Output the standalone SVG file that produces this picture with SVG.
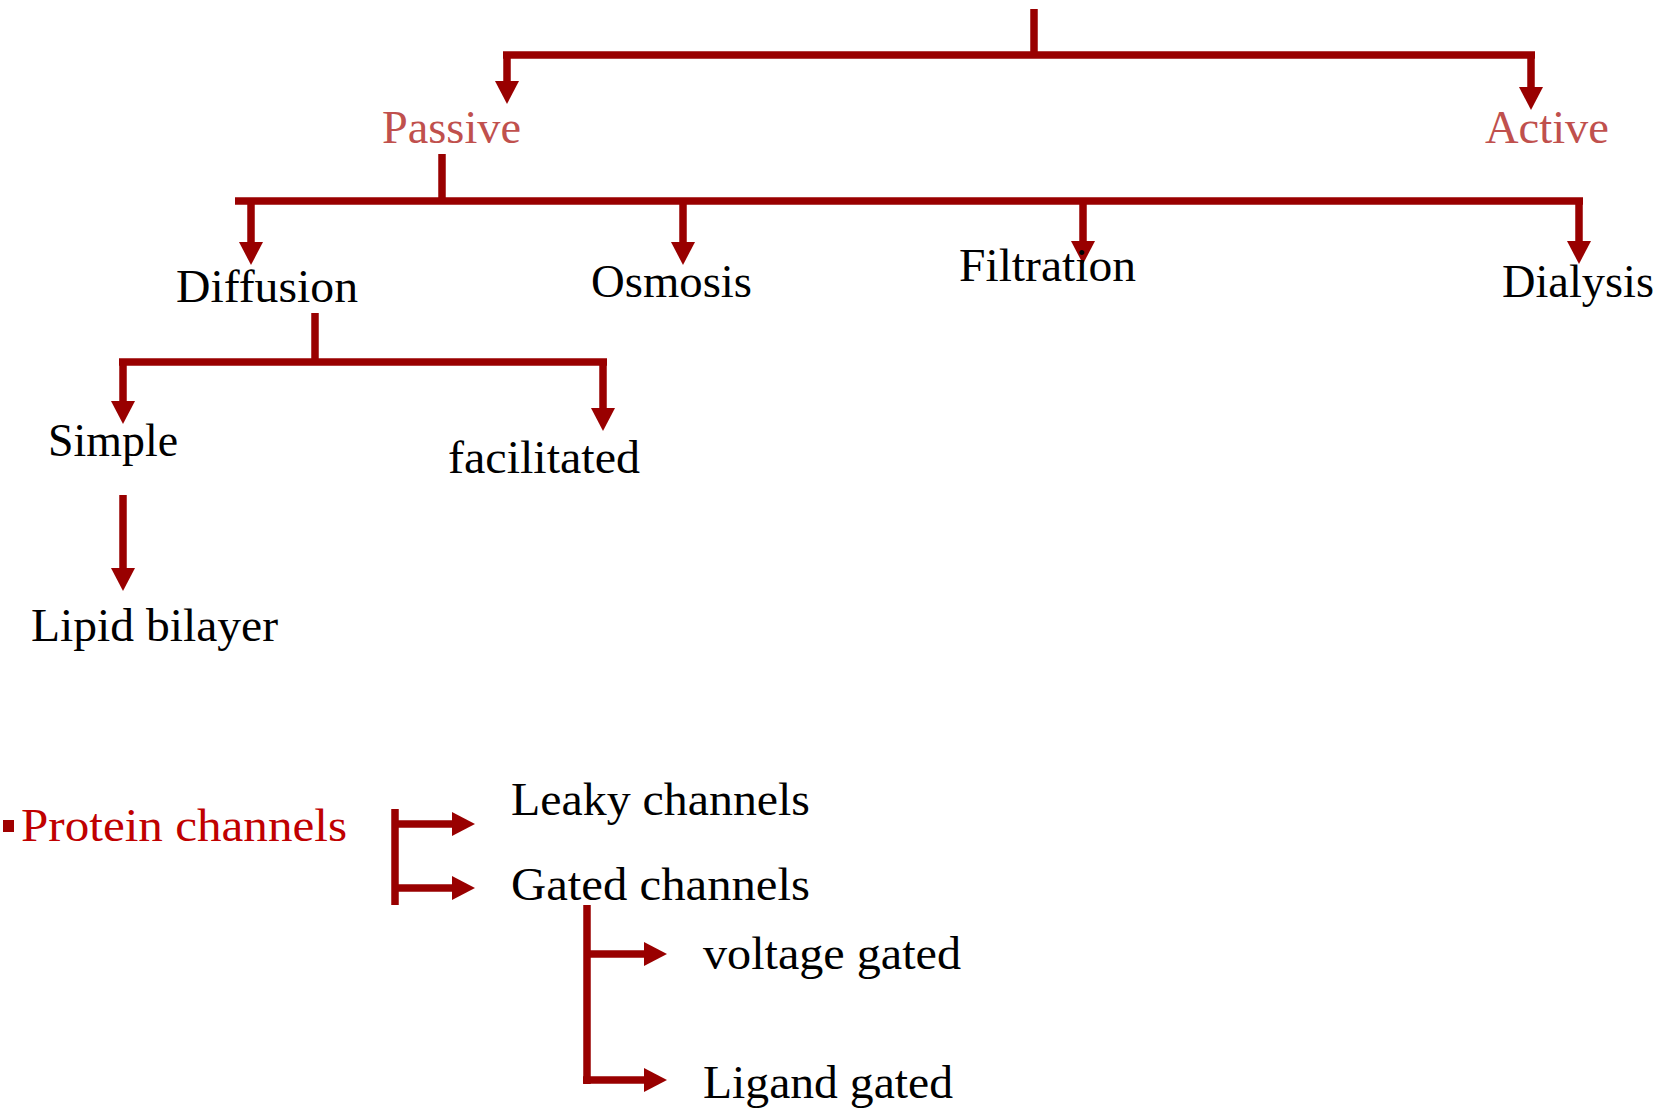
<svg xmlns="http://www.w3.org/2000/svg" width="1666" height="1108" viewBox="0 0 1666 1108">
<style>
  .ln { fill: none; stroke: #990000; stroke-width: 7.5; }
  .ar { fill: none; stroke: #990000; stroke-width: 7.5; marker-end: url(#head); }
  .t { font-family: "Liberation Serif", "Times New Roman", serif; font-size: 46px; fill: #000; }
  .h { fill: #C0504D; }
  .pc { fill: #C00000; }
</style>
<defs>
  <marker id="head" markerUnits="userSpaceOnUse" markerWidth="24" markerHeight="24" refX="0" refY="12" orient="auto">
    <path d="M0,0 L23,12 L0,24 Z" fill="#990000"/>
  </marker>
</defs>
<rect width="1666" height="1108" fill="#fff"/>
<g id="connectors">
  <path class="ln" d="M1034,9 V55"/>
  <path class="ln" d="M503,55 H1535"/>
  <path class="ar" d="M507,55 V81"/>
  <path class="ar" d="M1531,55 V87"/>
  <path class="ln" d="M442,154 V201"/>
  <path class="ln" d="M235,201 H1583"/>
  <path class="ar" d="M251,201 V242"/>
  <path class="ar" d="M683,201 V242"/>
  <path class="ar" d="M1083,201 V241"/>
  <path class="ar" d="M1579,201 V241"/>
  <path class="ln" d="M315,313 V362"/>
  <path class="ln" d="M119,362 H607"/>
  <path class="ar" d="M123,362 V401"/>
  <path class="ar" d="M603,362 V408"/>
  <path class="ar" d="M123,495 V568"/>
  <path class="ln" d="M395,809 V905"/>
  <path class="ar" d="M395,824 H452"/>
  <path class="ar" d="M395,888 H452"/>
  <path class="ln" d="M587,905 V1084"/>
  <path class="ar" d="M587,954 H644"/>
  <path class="ar" d="M583,1080 H644"/>
</g>
<g id="node-passive"><text class="t h" x="382" y="143" textLength="139" lengthAdjust="spacingAndGlyphs">Passive</text></g>
<g id="node-active"><text class="t h" x="1485" y="143" textLength="124" lengthAdjust="spacingAndGlyphs">Active</text></g>
<g id="node-diffusion"><text class="t" x="176" y="302" textLength="182" lengthAdjust="spacingAndGlyphs">Diffusion</text></g>
<g id="node-osmosis"><text class="t" x="591" y="297" textLength="161" lengthAdjust="spacingAndGlyphs">Osmosis</text></g>
<g id="node-filtration"><text class="t" x="959" y="281" textLength="177" lengthAdjust="spacingAndGlyphs">Filtration</text></g>
<g id="node-dialysis"><text class="t" x="1502" y="297" textLength="152" lengthAdjust="spacingAndGlyphs">Dialysis</text></g>
<g id="node-simple"><text class="t" x="48" y="456" textLength="130" lengthAdjust="spacingAndGlyphs">Simple</text></g>
<g id="node-facilitated"><text class="t" x="448" y="473" textLength="192" lengthAdjust="spacingAndGlyphs">facilitated</text></g>
<g id="node-lipid"><text class="t" x="31" y="641" textLength="247" lengthAdjust="spacingAndGlyphs">Lipid bilayer</text></g>
<g id="node-protein">
  <rect x="3" y="820" width="11" height="12" fill="#A00000"/>
  <text class="t pc" x="21" y="841" textLength="326" lengthAdjust="spacingAndGlyphs">Protein channels</text>
</g>
<g id="node-leaky"><text class="t" x="511" y="815" textLength="299" lengthAdjust="spacingAndGlyphs">Leaky channels</text></g>
<g id="node-gated"><text class="t" x="511" y="900" textLength="299" lengthAdjust="spacingAndGlyphs">Gated channels</text></g>
<g id="node-voltage"><text class="t" x="703" y="969" textLength="258" lengthAdjust="spacingAndGlyphs">voltage gated</text></g>
<g id="node-ligand"><text class="t" x="703" y="1098" textLength="250" lengthAdjust="spacingAndGlyphs">Ligand gated</text></g>
</svg>
